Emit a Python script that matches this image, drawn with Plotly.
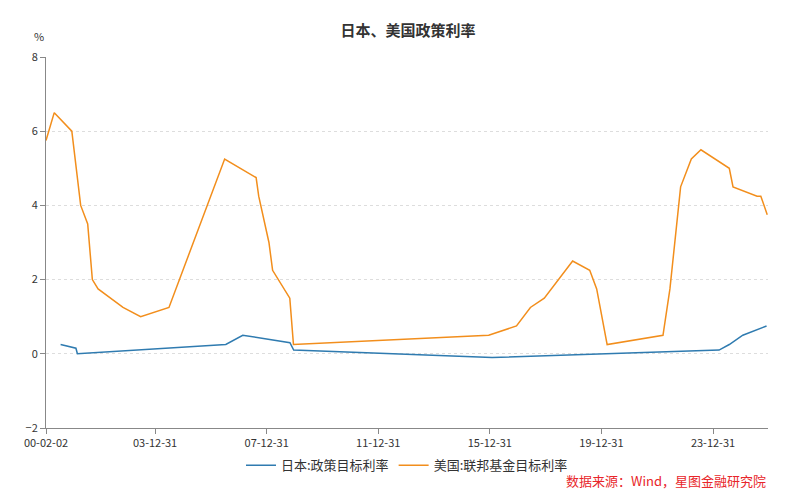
import plotly.graph_objects as go

us_dates = ["2000-02-02","2000-05-20","2001-01-05","2001-03-01","2001-05-01","2001-08-01","2001-10-01","2001-12-15",
            "2002-11-06","2003-06-25","2004-06-30","2006-06-29","2007-08-15","2007-09-18","2008-01-30","2008-03-18",
            "2008-10-29","2008-12-16","2015-12-16","2016-12-14","2017-06-14","2017-12-13","2018-12-19","2019-07-31",
            "2019-10-30","2020-03-15","2022-03-16","2022-06-15","2022-11-02","2023-03-22","2023-07-26","2024-07-31",
            "2024-09-18","2025-07-30","2025-09-17","2025-12-10"]
us_vals = [5.75,6.5,6.0,5.0,4.0,3.5,2.0,1.75,1.25,1.0,1.25,5.25,4.75,4.25,3.0,2.25,1.5,0.25,0.5,0.75,1.25,1.5,2.5,2.25,
           1.75,0.25,0.5,1.75,4.5,5.25,5.5,5.0,4.5,4.25,4.25,3.75]
jp_dates = ["2000-08-11","2001-02-28","2001-03-19","2006-07-14","2007-02-21","2008-10-31","2008-12-19",
            "2016-01-29","2024-03-19","2024-07-31","2025-01-24","2025-12-01"]
jp_vals = [0.25,0.15,0.0,0.25,0.5,0.3,0.1,-0.1,0.1,0.25,0.5,0.75]
tick_vals = ["2000-02-02","2003-12-31","2007-12-31","2011-12-31","2015-12-31","2019-12-31","2023-12-31"]
tick_text = ["00-02-02","03-12-31","07-12-31","11-12-31","15-12-31","19-12-31","23-12-31"]

fig = go.Figure()
fig.add_trace(go.Scatter(x=jp_dates, y=jp_vals, mode="lines", name="日本:政策目标利率",
                         line=dict(color="#2f7bb0", width=1.5)))
fig.add_trace(go.Scatter(x=us_dates, y=us_vals, mode="lines", name="美国:联邦基金目标利率",
                         line=dict(color="#f28e1c", width=1.5)))
font = "Noto Sans CJK SC"
fig.update_layout(
    width=800, height=498, plot_bgcolor="white", paper_bgcolor="white",
    font=dict(family=font, size=12, color="#333"),
    title=dict(text="<b>日本、美国政策利率</b>", x=0.5, y=0.965, xanchor="center", font=dict(size=15, color="#333")),
    margin=dict(l=38, r=40, t=49, b=78),
    showlegend=True,
    legend=dict(orientation="h", x=0.5, xanchor="center", y=-0.06, yanchor="top", font=dict(size=13)),
    xaxis=dict(type="date", range=["2000-02-02","2025-12-20"], tickvals=tick_vals, ticktext=tick_text,
               showgrid=False, showline=True, linecolor="#888", ticks="outside", tickcolor="#888",
               tickfont=dict(size=11, color="#333")),
    yaxis=dict(range=[-2, 8], dtick=2, showgrid=True, gridcolor="#ddd", griddash="dot", zeroline=False,
               showline=True, linecolor="#888", ticks="outside", tickcolor="#888", tickfont=dict(size=11)),
    annotations=[
        dict(text="%", xref="paper", yref="paper", x=-0.01, y=1.03, xanchor="center", yanchor="bottom",
             showarrow=False, font=dict(size=11)),
        dict(text="数据来源：Wind，星图金融研究院", xref="paper", yref="paper", x=1.0, y=-0.11,
             xanchor="right", yanchor="top", showarrow=False, font=dict(size=13, color="#e8262a")),
    ],
)
fig.write_html("out.html")
